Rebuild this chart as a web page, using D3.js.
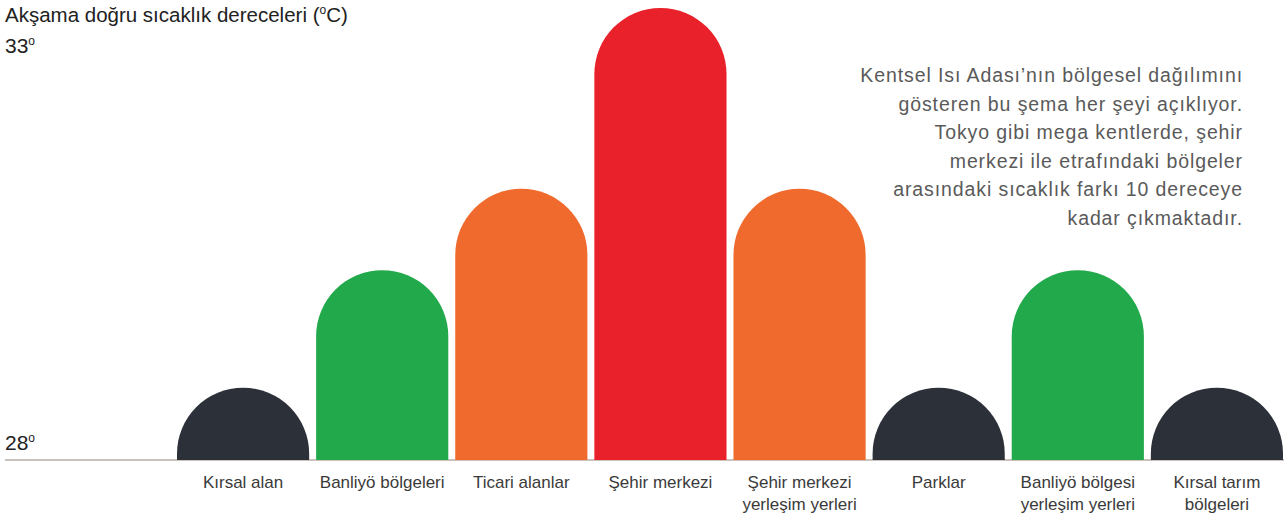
<!DOCTYPE html>
<html>
<head>
<meta charset="utf-8">
<script src="https://cdn.jsdelivr.net/npm/d3@7"></script>
<style>
  body { margin: 0; background: #fff; }
  svg { display: block; font-family: "Liberation Sans", Arial, sans-serif; }
</style>
</head>
<body>
<div id="chart"></div>
<script>
// categories (line breaks = label lines)
var categories = ["Kırsal alan", "Banliyö bölgeleri", "Ticari alanlar", "Şehir merkezi",
                  "Şehir merkezi\nyerleşim yerleri", "Parklar", "Banliyö bölgesi\nyerleşim yerleri",
                  "Kırsal tarım\nbölgeleri"];
// evening temperatures
var temps = [28.8, 30.1, 31.0, 33.0, 31.0, 28.8, 30.1, 28.8];
var colors = ["#2c3039", "#22a94b", "#ef6a2c", "#e8212b", "#ef6a2c", "#2c3039", "#22a94b", "#2c3039"];
var tickValues = [28, 33];
var title = "Akşama doğru sıcaklık dereceleri (";
var note = ["Kentsel Isı Adası’nın bölgesel dağılımını",
            "gösteren bu şema her şeyi açıklıyor.",
            "Tokyo gibi mega kentlerde, şehir",
            "merkezi ile etrafındaki bölgeler",
            "arasındaki sıcaklık farkı 10 dereceye",
            "kadar çıkmaktadır."];

var width = 1284, height = 514;
var baseY = 460;

var svg = d3.select("#chart").append("svg")
  .attr("width", width).attr("height", height);

var x = d3.scaleBand()
  .domain(categories)
  .range([177, 1283])
  .paddingInner(0.05)
  .paddingOuter(0);

var y = d3.scaleLinear()
  .domain([28, 33])
  .range([baseY, 8]);

// baseline
svg.append("line")
  .attr("x1", 5).attr("x2", width)
  .attr("y1", baseY).attr("y2", baseY)
  .attr("stroke", "#cbc3bb").attr("stroke-width", 2);

// rounded-top bars
function barPath(d, i) {
  var x0 = x(categories[i]), w = x.bandwidth(), r = w / 2;
  var top = y(d);
  var yc = Math.min(top + r, baseY);
  return "M" + x0 + "," + baseY +
         "L" + x0 + "," + yc +
         "A" + r + "," + (yc - top) + " 0 0 1 " + (x0 + w) + "," + yc +
         "L" + (x0 + w) + "," + baseY + "Z";
}

svg.selectAll(".bar")
  .data(temps)
  .enter().append("path")
  .attr("class", "bar")
  .attr("d", barPath)
  .attr("fill", function(d, i) { return colors[i]; });

// category labels
var lab = svg.selectAll(".cat")
  .data(categories)
  .enter().append("text")
  .attr("class", "cat")
  .attr("text-anchor", "middle")
  .attr("x", function(d) { return x(d) + x.bandwidth() / 2; })
  .attr("y", baseY + 28)
  .attr("fill", "#3a3a3a")
  .style("font-size", "17px");
lab.selectAll("tspan")
  .data(function(d) { return d.split("\n").map(function(t) { return {t: t, x: x(d) + x.bandwidth() / 2}; }); })
  .enter().append("tspan")
  .attr("x", function(d) { return d.x; })
  .attr("dy", function(d, i) { return i ? 22 : 0; })
  .text(function(d) { return d.t; });

// title
var t = svg.append("text")
  .attr("x", 5).attr("y", 22)
  .attr("fill", "#222")
  .style("font-size", "20.5px")
  .text(title);
t.append("tspan").attr("dy", -8).style("font-size", "12px").text("o");
t.append("tspan").attr("dy", 8).text("C)");

// y tick labels
svg.selectAll(".tick-lab")
  .data(tickValues)
  .enter().append("text")
  .attr("class", "tick-lab")
  .attr("x", 5)
  .attr("y", function(d) { return d === 33 ? y(d) + 45 : y(d) - 10; })
  .attr("fill", "#222")
  .style("font-size", "21px")
  .each(function(d) {
    var s = d3.select(this);
    s.append("tspan").text(d);
    s.append("tspan").attr("dy", -8).style("font-size", "12px").text("o");
  });

// annotation
svg.append("text")
  .attr("text-anchor", "end")
  .attr("fill", "#5a5a5a")
  .style("font-size", "19.5px")
  .style("letter-spacing", "0.9px")
  .selectAll("tspan")
  .data(note)
  .enter().append("tspan")
  .attr("x", 1243)
  .attr("y", function(d, i) { return 82 + i * 28.6; })
  .text(function(d) { return d; });
</script>
</body>
</html>
